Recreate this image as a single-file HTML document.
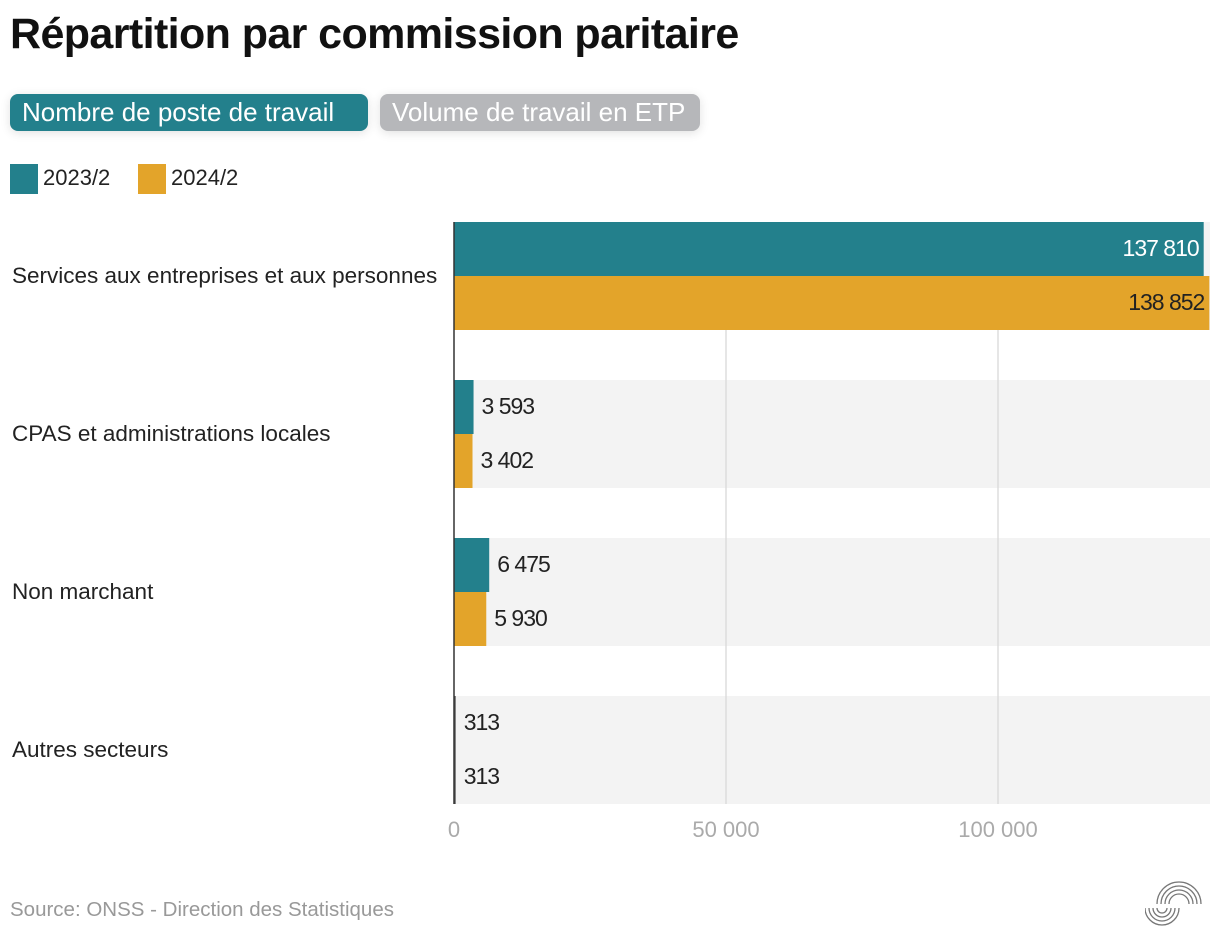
<!DOCTYPE html>
<html><head><meta charset="utf-8"><style>
body{margin:0;width:1220px;height:950px;background:#fff;font-family:"Liberation Sans",sans-serif;overflow:hidden;position:relative}
.t{position:absolute;left:10px;top:10px;font-size:43px;font-weight:bold;color:#111;letter-spacing:-0.6px}
.btn{position:absolute;top:94px;height:37px;border-radius:8px;color:#fff;font-size:26px;line-height:37px;padding:0 12px;box-sizing:border-box;box-shadow:0 2px 10px rgba(0,0,0,.12)}
.lg{position:absolute;top:164px;width:28px;height:30px}
.lt{position:absolute;top:165px;font-size:22px;color:#222}
.src{position:absolute;left:10px;top:898px;font-size:20.5px;color:#999}
</style></head><body>
<div class="t">Répartition par commission paritaire</div>
<div class="btn" style="left:10px;width:358px;background:#23808c">Nombre de poste de travail</div>
<div class="btn" style="left:380px;width:320px;background:#b6b7ba">Volume de travail en ETP</div>
<div class="lg" style="left:10px;background:#23808c"></div>
<div class="lt" style="left:43px">2023/2</div>
<div class="lg" style="left:138px;background:#e3a42a"></div>
<div class="lt" style="left:171px">2024/2</div>
<svg id="c" width="1220" height="950" style="position:absolute;left:0;top:0"></svg>
<div class="src">Source: ONSS - Direction des Statistiques</div>
<svg width="60" height="60" viewBox="0 0 60 60" style="position:absolute;left:1145px;top:878px">
<g fill="none" stroke="#777" stroke-width="1.3">
<path d="M24 26a10 10 0 0 1 20 0M20 26a14 14 0 0 1 28 0M16 26a18 18 0 0 1 36 0M12 26a22 22 0 0 1 44 0"/>
<path d="M4 30a13 13 0 0 0 26 0M8 30a9 9 0 0 0 18 0M0 30a17 17 0 0 0 34 0M12 30a5 5 0 0 0 10 0"/>
</g></svg>
<script>
const categories=["Services aux entreprises et aux personnes","CPAS et administrations locales","Non marchant","Autres secteurs"];
const values2023=[137810,3593,6475,313];
const values2024=[138852,3402,5930,313];
const tickValues=[0,50000,100000];
const tickLabels=["0","50 000","100 000"];
const svg=document.getElementById('c');const NS="http://www.w3.org/2000/svg";
const x0=454,pxPer=272/50000;
const xs=v=>x0+v*pxPer;
const y0=222,step=158,bandH=108,barH=54;
function mk(t,a){const e=document.createElementNS(NS,t);for(const k in a)e.setAttribute(k,a[k]);svg.appendChild(e);return e;}
const fmt=v=>v.toString().replace(/\B(?=(\d{3})+(?!\d))/g," ");
categories.forEach((c,i)=>{const y=y0+i*step;
 const b=mk('rect',{x:x0,y:y,width:1220-x0-10,height:bandH,fill:'#f3f3f3'});
 
 
});
tickValues.forEach((v,i)=>{
 if(v>0){const l=mk('line',{x1:xs(v),x2:xs(v),y1:y0,y2:y0+3*step+bandH,stroke:'#ddd','stroke-width':1.5});
 
 }
 const t=mk('text',{x:xs(v),y:837,'text-anchor':'middle','font-size':22,fill:'#aaa','font-family':'Liberation Sans'});t.textContent=tickLabels[i];
 
 
});
categories.forEach((c,i)=>{const y=y0+i*step;
 const lab=mk('text',{x:12,y:y+bandH/2+7,'font-size':22.5,fill:'#222','font-family':'Liberation Sans'});lab.textContent=c;
 
 
 [[values2023[i],'#23808c','bar-2023'],[values2024[i],'#e3a42a','bar-2024']].forEach(([v,col,n],j)=>{
  const by=y+j*barH,w=Math.max(1.5,xs(v)-x0);
  const r=mk('rect',{x:x0,y:by,width:w,height:barH,fill:v<1000?'#555':col});
  
  
  const inside=w>100;
  const t=mk('text',{x:inside?x0+w-5:x0+w+8,y:by+barH/2+7,'text-anchor':inside?'end':'start','font-size':23,fill:inside&&j==0?'#fff':'#222','font-family':'Liberation Sans','letter-spacing':'-1'});
  t.textContent=fmt(v);
  
  
 });
});
const ax=mk('line',{x1:x0,x2:x0,y1:y0,y2:y0+3*step+bandH,stroke:'#333','stroke-width':1.5});


</script>
</body></html>
